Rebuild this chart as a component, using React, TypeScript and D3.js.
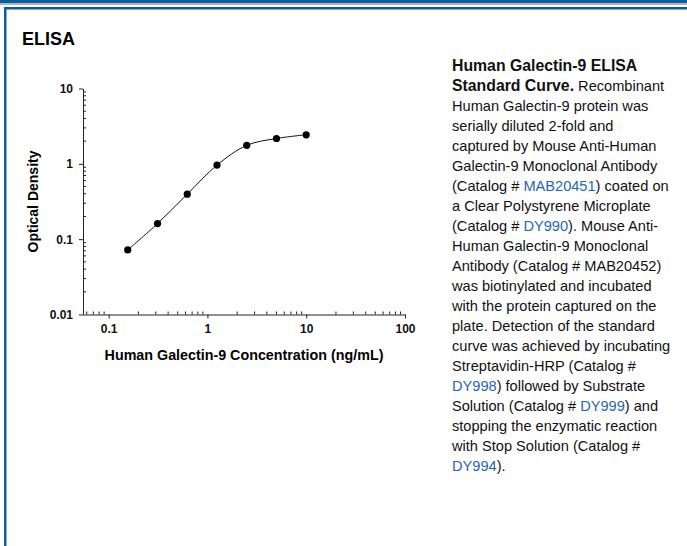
import { useEffect, useRef } from 'react'
import * as d3 from 'd3'

// standard curve readings
const concentrations = [0.156, 0.3125, 0.625, 1.25, 2.5, 5, 10]
const opticalDensity = [0.072, 0.161, 0.396, 0.962, 1.76, 2.17, 2.43]
const xTickValues = [0.1, 1, 10, 100]
const yTickValues = [0.01, 0.1, 1, 10]

// caption, one entry per line; [text, style] where style is b = bold, l = link
const captionLines: [string, string][][] = [
  [['Human Galectin-9 ELISA', 'b']],
  [['Standard Curve.', 'b'], [' Recombinant', '']],
  [['Human Galectin-9 protein was', '']],
  [['serially diluted 2-fold and', '']],
  [['captured by Mouse Anti-Human', '']],
  [['Galectin-9 Monoclonal Antibody', '']],
  [['(Catalog # ', ''], ['MAB20451', 'l'], [') coated on', '']],
  [['a Clear Polystyrene Microplate', '']],
  [['(Catalog # ', ''], ['DY990', 'l'], ['). Mouse Anti-', '']],
  [['Human Galectin-9 Monoclonal', '']],
  [['Antibody (Catalog # MAB20452)', '']],
  [['was biotinylated and incubated', '']],
  [['with the protein captured on the', '']],
  [['plate. Detection of the standard', '']],
  [['curve was achieved by incubating', '']],
  [['Streptavidin-HRP (Catalog #', '']],
  [['DY998', 'l'], [') followed by Substrate', '']],
  [['Solution (Catalog # ', ''], ['DY999', 'l'], [') and', '']],
  [['stopping the enzymatic reaction', '']],
  [['with Stop Solution (Catalog #', '']],
  [['DY994', 'l'], [').', '']],
]

const W = 687
const H = 546
const BLUE = '#0d5e9f'
const LINK = '#1f66b0'
const FONT = "'Liberation Sans', Arial, sans-serif"

export default function App() {
  const svgRef = useRef<SVGSVGElement>(null)

  useEffect(() => {
    if (!svgRef.current) return
    const svg = d3.select(svgRef.current)
    svg.selectAll('*').remove()

    // frame
    svg.append('rect').attr('x', 0).attr('y', 0).attr('width', W).attr('height', 3).attr('fill', BLUE)
    svg.append('rect').attr('x', 0).attr('y', 3).attr('width', W).attr('height', 2).attr('fill', '#b5b5b5')
    svg.append('rect').attr('x', 4).attr('y', 7).attr('width', W - 4).attr('height', 2.5).attr('fill', BLUE)
    svg.append('rect').attr('x', 4).attr('y', 7).attr('width', 2.5).attr('height', H - 7).attr('fill', BLUE)

    svg.append('text')
      .attr('x', 22).attr('y', 45)
      .attr('font-family', FONT).attr('font-size', 18).attr('font-weight', 'bold')
      .text('ELISA')

    const x = d3.scaleLog().domain([0.055, 100]).range([83, 405])
    const y = d3.scaleLog().domain([0.01, 10]).range([314.5, 88.5])

    const g = svg.append('g')

    // minor ticks (inside)
    const xMinor: number[] = []
    for (let d = 0.01; d < 100; d *= 10) {
      for (let k = 2; k <= 9; k++) {
        const v = d * k
        if (v >= x.domain()[0] && v < 100) xMinor.push(v)
      }
    }
    const yMinor: number[] = []
    for (let d = 0.01; d < 10; d *= 10) {
      for (let k = 2; k <= 9; k++) yMinor.push(d * k)
    }

    const xAxis = g.append('g').attr('transform', `translate(0,${y(0.01)})`)
      .call(d3.axisBottom(x).tickValues(xTickValues).tickSize(4).tickPadding(6)
        .tickFormat(d => String(d)).tickSizeOuter(0))
    xAxis.append('g').selectAll('line').data(xMinor).enter().append('line')
      .attr('x1', d => x(d)).attr('x2', d => x(d)).attr('y1', 0).attr('y2', -3)
      .attr('stroke', '#222')

    const yAxis = g.append('g').attr('transform', `translate(${x.range()[0]},0)`)
      .call(d3.axisLeft(y).tickValues(yTickValues).tickSize(4).tickPadding(6)
        .tickFormat(d => String(d)).tickSizeOuter(0))
    yAxis.append('g').selectAll('line').data(yMinor).enter().append('line')
      .attr('y1', d => y(d)).attr('y2', d => y(d)).attr('x1', 0).attr('x2', 3)
      .attr('stroke', '#222')

    g.selectAll('.domain').attr('stroke', '#222')
    g.selectAll('.tick line').attr('stroke', '#222')
    g.selectAll('.tick text')
      .attr('font-family', FONT).attr('font-size', 12).attr('font-weight', 'bold').attr('fill', '#111')

    // fitted curve
    const pts: [number, number][] = concentrations.map((c, i) => [x(c), y(opticalDensity[i])])
    g.append('path')
      .attr('d', d3.line().curve(d3.curveCatmullRom.alpha(0.5))(pts))
      .attr('fill', 'none').attr('stroke', '#111').attr('stroke-width', 1)

    g.selectAll('circle.pt').data(pts).enter().append('circle')
      .attr('class', 'pt')
      .attr('cx', d => d[0]).attr('cy', d => d[1]).attr('r', 3.6).attr('fill', '#000')

    // axis titles
    g.append('text')
      .attr('transform', `translate(38,${(y.range()[0] + y.range()[1]) / 2}) rotate(-90)`)
      .attr('text-anchor', 'middle')
      .attr('font-family', FONT).attr('font-size', 14).attr('font-weight', 'bold')
      .text('Optical Density')
    g.append('text')
      .attr('x', 244).attr('y', 360)
      .attr('text-anchor', 'middle')
      .attr('font-family', FONT).attr('font-size', 14.3).attr('font-weight', 'bold')
      .text('Human Galectin-9 Concentration (ng/mL)')

    // caption
    const cap = svg.append('g')
    captionLines.forEach((line, i) => {
      const t = cap.append('text')
        .attr('x', 452).attr('y', 71 + i * 20)
        .attr('font-family', FONT).attr('font-size', 14.6).attr('fill', '#111')
        .style('white-space', 'pre')
      line.forEach(([s, style]) => {
        t.append('tspan')
          .attr('font-weight', style === 'b' ? 'bold' : 'normal')
          .attr('font-size', style === 'b' ? 15.8 : 14.6)
          .attr('fill', style === 'l' ? LINK : '#111')
          .text(s)
      })
    })
  }, [])

  return (
    <svg ref={svgRef} width={W} height={H}
      style={{ position: 'absolute', left: 0, top: 0, background: '#fff' }} />
  )
}
